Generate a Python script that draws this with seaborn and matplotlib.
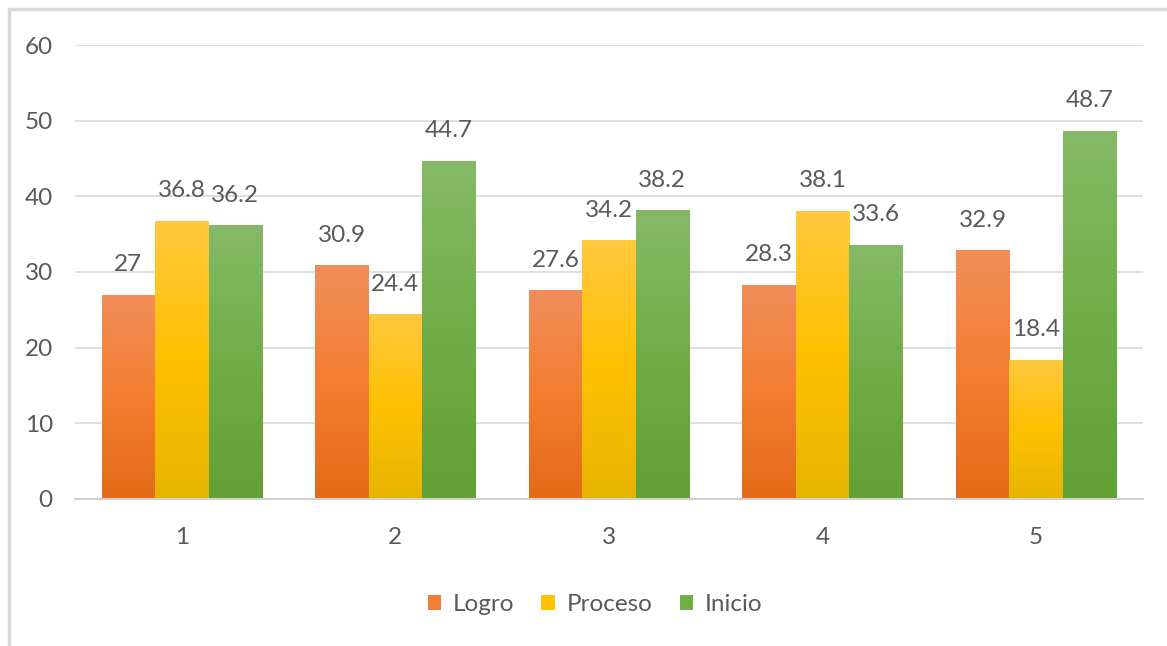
import numpy as np
import pandas as pd
import matplotlib
matplotlib.use("Agg")
import matplotlib.pyplot as plt
from matplotlib import font_manager
from matplotlib.colors import LinearSegmentedColormap
from matplotlib.lines import Line2D
from matplotlib.patches import Rectangle
import seaborn as sns

# Chart data
groups = ["1", "2", "3", "4", "5"]
series = ["Logro", "Proceso", "Inicio"]
logro = [27, 30.9, 27.6, 28.3, 32.9]
proceso = [36.8, 24.4, 34.2, 38.1, 18.4]
inicio = [36.2, 44.7, 38.2, 33.6, 48.7]
y_ticks = [0, 10, 20, 30, 40, 50, 60]

# (top, middle, bottom) shades for each series' vertical gradient
shades = {
    "Logro": ("#F18D5A", "#F47D30", "#E46A18"),
    "Proceso": ("#FFC93F", "#FFC000", "#E6B400"),
    "Inicio": ("#86B967", "#70AD47", "#61A035"),
}
mid_colors = [shades[s][1] for s in series]

df = pd.DataFrame({
    "grupo": groups * 3,
    "serie": [s for s in series for _ in groups],
    "valor": logro + proceso + inicio,
})

sns.set_theme(style="white")
available = {f.name for f in font_manager.fontManager.ttflist}
family = next((f for f in ["Liberation Sans Narrow", "Lato", "Roboto", "DejaVu Sans"] if f in available), "DejaVu Sans")
plt.rcParams["font.family"] = [family, "DejaVu Sans"]
text_color = "#595959"
fs = 17.5

fig = plt.figure(figsize=(11.67, 6.46), dpi=100)
ax = fig.add_axes([0.0643, 0.2276, 0.9151, 0.7027])

sns.barplot(data=df, x="grupo", y="valor", hue="serie", order=groups,
            hue_order=series, palette=mid_colors, width=0.75, gap=0,
            saturation=1, errorbar=None, legend=False, ax=ax,
            edgecolor="none", linewidth=0)

ax.set_xlim(-0.5, len(groups) - 0.5)
ax.set_ylim(0, 60)
ax.set_yticks(y_ticks)
ax.yaxis.grid(True, color="#D9D9D9", linewidth=1.2)
ax.set_axisbelow(True)
for side in ["top", "right", "left"]:
    ax.spines[side].set_visible(False)
ax.spines["bottom"].set_color("#D0D0D0")
ax.spines["bottom"].set_linewidth(1.5)
ax.tick_params(axis="both", length=0, labelsize=fs, colors=text_color)
ax.tick_params(axis="x", pad=20)
ax.tick_params(axis="y", pad=16)
ax.set_xlabel("")
ax.set_ylabel("")

# Vertical gradients clipped to each bar, plus value labels
grad = np.linspace(0, 1, 256).reshape(-1, 1)
for container, name in zip(ax.containers, series):
    top, mid, bot = shades[name]
    cmap = LinearSegmentedColormap.from_list(name, [bot, mid, top])
    for bar in container:
        x0, w, h = bar.get_x(), bar.get_width(), bar.get_height()
        img = ax.imshow(grad, cmap=cmap, origin="lower", aspect="auto",
                        extent=(x0, x0 + w, 0, h), zorder=bar.get_zorder() + 0.1)
        img.set_clip_path(bar)
        ax.annotate(f"{h:g}", (x0 + w / 2, h), xytext=(0, 14),
                    textcoords="offset points", ha="center", va="bottom",
                    fontsize=fs, color=text_color)
ax.set_xlim(-0.5, len(groups) - 0.5)
ax.set_ylim(0, 60)

# Legend with square markers
handles = [Rectangle((0, 0), 1, 1, facecolor=shades[s][1], edgecolor="none") for s in series]
fig.legend(handles, series, loc="center", bbox_to_anchor=(0.51, 0.064),
           ncol=3, frameon=False, fontsize=fs, labelcolor=text_color,
           handlelength=0.55, handleheight=0.55, handletextpad=0.5,
           columnspacing=1.1)

# Chart frame edges
fig.add_artist(Line2D([0.0077, 1.0], [0.986, 0.986], color="#D9D9D9", linewidth=2.5))
fig.add_artist(Line2D([0.0077, 0.0077], [0.0, 0.986], color="#D9D9D9", linewidth=2.5))

fig.savefig("out.png", dpi=100)
